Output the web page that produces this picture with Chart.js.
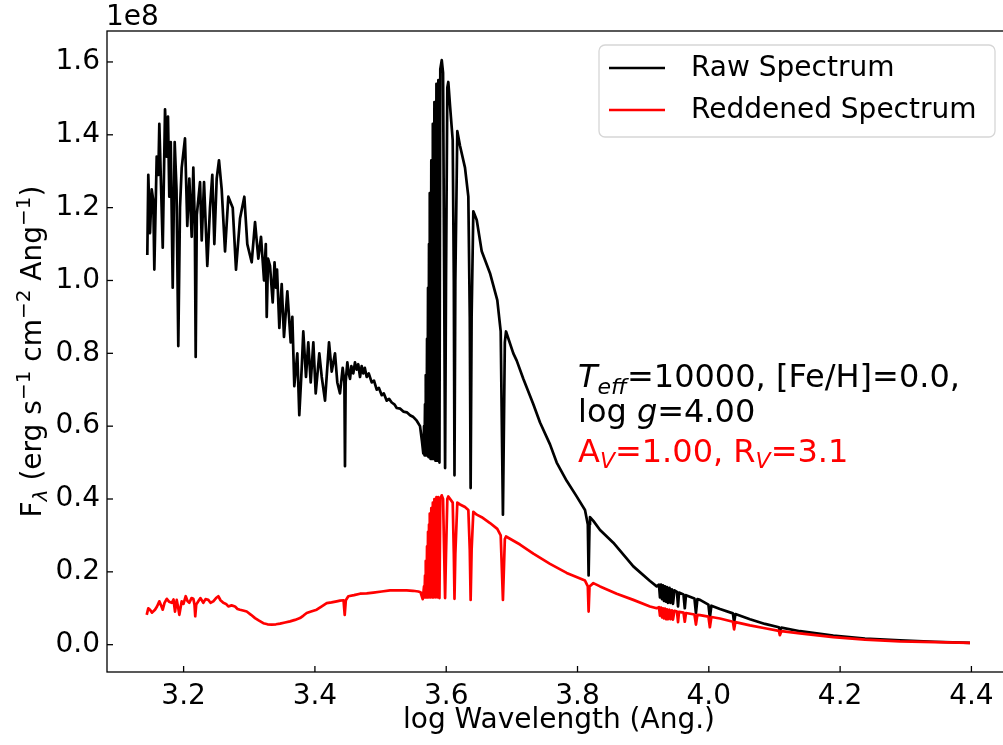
<!DOCTYPE html>
<html>
<head>
<meta charset="utf-8">
<script src="https://cdn.jsdelivr.net/npm/chart.js@4.4.1/dist/chart.umd.min.js"></script>
<style>
  html, body { margin: 0; padding: 0; background: #fff; overflow: hidden; }
  #wrap { width: 1020px; height: 745px; }
</style>
</head>
<body>
<div id="wrap"><canvas id="spec" width="1020" height="745"></canvas></div>
<script>
// ==========================================
// data (flux in units of 1e8)
// ==========================================
const seriesNames = ['Raw Spectrum', 'Reddened Spectrum'];
const xTicks = [3.2, 3.4, 3.6, 3.8, 4.0, 4.2, 4.4];
const yTicks = [0.0, 0.2, 0.4, 0.6, 0.8, 1.0, 1.2, 1.4, 1.6];
const xTitle = 'log Wavelength (Ang.)';
const offsetText = '1e8';

const rawWave = [
  3.1447, 3.1462, 3.1488, 3.1514, 3.1538, 3.1554, 3.1590, 3.1615, 3.1630, 3.1656,
  3.1682, 3.1717, 3.1743, 3.1762, 3.1782, 3.1804, 3.1834, 3.1864, 3.1892, 3.1919,
  3.1945, 3.1971, 3.2021, 3.2056, 3.2087, 3.2123, 3.2148, 3.2171, 3.2184, 3.2201,
  3.2250, 3.2276, 3.2311, 3.2361, 3.2402, 3.2437, 3.2468, 3.2504, 3.2539, 3.2580,
  3.2631, 3.2681, 3.2748, 3.2798, 3.2859, 3.2925, 3.2970, 3.3037, 3.3088, 3.3138,
  3.3179, 3.3225, 3.3252, 3.3266, 3.3286, 3.3316, 3.3357, 3.3385, 3.3407, 3.3423,
  3.3458, 3.3494, 3.3529, 3.3580, 3.3631, 3.3656, 3.3686, 3.3732, 3.3762, 3.3799,
  3.3823, 3.3864, 3.3899, 3.3936, 3.3976, 3.4012, 3.4067, 3.4104, 3.4154, 3.4215,
  3.4256, 3.4306, 3.4341, 3.4382, 3.4423, 3.4449, 3.4458, 3.4468, 3.4494, 3.4515,
  3.4535, 3.4555, 3.4585, 3.4610, 3.4637, 3.4660, 3.4687, 3.4712, 3.4737, 3.4760,
  3.4789, 3.4820, 3.4865, 3.4900, 3.4941, 3.4975, 3.5018, 3.5050, 3.5094, 3.5130,
  3.5170, 3.5210, 3.5246, 3.5300, 3.5347, 3.5400, 3.5449, 3.5500, 3.5551, 3.5601,
  3.5630, 3.5651,
  3.5662, 3.5669, 3.5677, 3.5685, 3.5692, 3.5700, 3.5708, 3.5715, 3.5723, 3.5730,
  3.5738, 3.5746, 3.5753, 3.5762, 3.5773, 3.5784, 3.5796, 3.5808, 3.5820, 3.5836,
  3.5851, 3.5866, 3.5880, 3.5897, 3.5910, 3.5932, 3.5952, 3.5969, 3.5983, 3.5997,
  3.6017, 3.6032, 3.6058, 3.6099, 3.6116, 3.6126, 3.6139, 3.6169, 3.6210, 3.6286,
  3.6337, 3.6359, 3.6372, 3.6387, 3.6413, 3.6465, 3.6541, 3.6667, 3.6778, 3.6830,
  3.6864, 3.6893, 3.6911, 3.7022, 3.7074, 3.7174, 3.7327, 3.7429, 3.7581, 3.7683,
  3.7835, 3.7977, 3.8114, 3.8157, 3.8169, 3.8183, 3.8190, 3.8241, 3.8343, 3.8545,
  3.8850, 3.9104, 3.9206,
  3.9241, 3.9256, 3.9272, 3.9287, 3.9302, 3.9317, 3.9332, 3.9348, 3.9363, 3.9378,
  3.9401, 3.9416, 3.9439, 3.9454, 3.9477, 3.9515, 3.9531, 3.9546, 3.9614, 3.9634,
  3.9652, 3.9781, 3.9804, 3.9826, 3.9866, 3.9994, 4.0016, 4.0039, 4.0170, 4.0367,
  4.0385, 4.0405, 4.0627, 4.0856, 4.1067, 4.1082, 4.1105, 4.1389, 4.1896, 4.2379,
  4.2912, 4.3445, 4.3978
];
const rawFlux = [
  1.07, 1.29, 1.13, 1.25, 1.22, 1.03, 1.34, 1.29, 1.43, 1.26,
  1.09, 1.47, 1.34, 1.45, 1.23, 1.38, 0.98, 1.38, 1.25, 0.82,
  1.20, 1.31, 1.39, 1.15, 1.28, 1.12, 1.31, 1.15, 0.79, 1.18,
  1.27, 1.11, 1.27, 1.04, 1.20, 1.29, 1.10, 1.28, 1.33, 1.25,
  1.08, 1.23, 1.20, 1.03, 1.17, 1.23, 1.10, 1.05, 1.16, 1.06,
  1.12, 1.00, 1.10, 0.90, 1.06, 1.04, 0.94, 1.05, 0.98, 1.03,
  0.87, 0.99, 0.845, 0.97, 0.83, 0.90, 0.71, 0.80, 0.63, 0.76,
  0.86, 0.735, 0.83, 0.72, 0.83, 0.69, 0.80, 0.735, 0.67, 0.83,
  0.75, 0.80, 0.72, 0.69, 0.76, 0.72, 0.49, 0.72, 0.775, 0.745,
  0.73, 0.765, 0.745, 0.775, 0.755, 0.77, 0.735, 0.765, 0.745, 0.76,
  0.735, 0.745, 0.72, 0.725, 0.70, 0.705, 0.685, 0.69, 0.67, 0.675,
  0.665, 0.66, 0.65, 0.648, 0.64, 0.638, 0.63, 0.625, 0.615, 0.60,
  0.56, 0.525,
  0.60, 0.52, 0.66, 0.52, 0.74, 0.52, 0.84, 0.52, 0.98, 0.515,
  1.10, 0.515, 1.24, 0.51, 1.33, 0.51, 1.43, 0.51, 1.49, 0.505,
  1.54, 0.505, 1.55, 0.50, 1.58, 1.605, 1.57, 1.00, 0.485, 1.00,
  1.53, 1.545, 1.48, 1.385, 1.00, 0.465, 1.00, 1.41, 1.37, 1.31,
  1.23, 0.90, 0.43, 0.90, 1.19, 1.166, 1.08, 1.02, 0.946, 0.86,
  0.357, 0.83, 0.86, 0.80, 0.78, 0.73, 0.66, 0.61, 0.55, 0.50,
  0.45, 0.41, 0.37, 0.33, 0.19, 0.33, 0.35, 0.34, 0.315, 0.28,
  0.215, 0.175, 0.16,
  0.165, 0.13, 0.165, 0.125, 0.163, 0.12, 0.16, 0.118, 0.158, 0.115,
  0.156, 0.115, 0.152, 0.112, 0.149, 0.145, 0.105, 0.143, 0.138, 0.10,
  0.136, 0.127, 0.087, 0.125, 0.123, 0.11, 0.074, 0.107, 0.098, 0.086,
  0.061, 0.084, 0.07, 0.057, 0.048, 0.036, 0.047, 0.037, 0.025, 0.017,
  0.012, 0.008, 0.005
];

const redWave = [
  3.1438, 3.1462, 3.1488, 3.1519, 3.1564, 3.1595, 3.1630, 3.1656, 3.1682, 3.1709,
  3.1743, 3.1778, 3.1819, 3.1846, 3.1869, 3.1895, 3.1919, 3.1935, 3.1971, 3.1998,
  3.2032, 3.2059, 3.2087, 3.2120, 3.2148, 3.2166, 3.2177, 3.2192, 3.2224, 3.2257,
  3.2300, 3.2334, 3.2376, 3.2410, 3.2452, 3.2494, 3.2529, 3.2562, 3.2605, 3.2646,
  3.2681, 3.2730, 3.2783, 3.2821, 3.2859, 3.2905, 3.2961, 3.3027, 3.3088, 3.3149,
  3.3214, 3.3278, 3.3342, 3.3407, 3.3468, 3.3545, 3.3621, 3.3697, 3.3773, 3.3826,
  3.3875, 3.3941, 3.4027, 3.4093, 3.4180, 3.4253, 3.4332, 3.4382, 3.4436, 3.4454,
  3.4471, 3.4509, 3.4596, 3.4687, 3.4789, 3.4890, 3.5018, 3.5144, 3.5266, 3.5398,
  3.5494, 3.5575, 3.5609, 3.5642,
  3.5662, 3.5669, 3.5677, 3.5685, 3.5692, 3.5700, 3.5708, 3.5715, 3.5723, 3.5730,
  3.5738, 3.5746, 3.5753, 3.5762, 3.5773, 3.5784, 3.5796, 3.5808, 3.5820, 3.5836,
  3.5851, 3.5866, 3.5880, 3.5897, 3.5910, 3.5932, 3.5952, 3.5969, 3.5983, 3.5997,
  3.6017, 3.6032, 3.6099, 3.6116, 3.6126, 3.6139, 3.6169, 3.6210, 3.6286, 3.6337,
  3.6359, 3.6372, 3.6387, 3.6413, 3.6465, 3.6541, 3.6667, 3.6778, 3.6830, 3.6864,
  3.6893, 3.6911, 3.7124, 3.7327, 3.7581, 3.7835, 3.8114, 3.8157, 3.8169, 3.8183,
  3.8241, 3.8343, 3.8597, 3.8850, 3.9104, 3.9206,
  3.9241, 3.9256, 3.9272, 3.9287, 3.9302, 3.9317, 3.9332, 3.9348, 3.9363, 3.9378,
  3.9401, 3.9416, 3.9439, 3.9454, 3.9477, 3.9515, 3.9531, 3.9546, 3.9614, 3.9634,
  3.9652, 3.9781, 3.9804, 3.9826, 3.9866, 3.9994, 4.0016, 4.0039, 4.0170, 4.0367,
  4.0385, 4.0405, 4.0627, 4.0856, 4.1067, 4.1082, 4.1105, 4.1389, 4.1896, 4.2379,
  4.2912, 4.3445, 4.3978
];
const redFlux = [
  0.082, 0.10, 0.096, 0.088, 0.096, 0.105, 0.119, 0.108, 0.096, 0.115,
  0.126, 0.118, 0.115, 0.124, 0.091, 0.123, 0.10, 0.082, 0.119, 0.112,
  0.133, 0.12, 0.115, 0.128, 0.126, 0.11, 0.078, 0.11, 0.119, 0.128,
  0.115, 0.125, 0.123, 0.115, 0.119, 0.128, 0.133, 0.122, 0.115, 0.112,
  0.105, 0.108, 0.105, 0.098, 0.096, 0.094, 0.091, 0.082, 0.073, 0.066,
  0.059, 0.056, 0.055, 0.056, 0.058, 0.061, 0.064, 0.068, 0.073, 0.080,
  0.087, 0.091, 0.096, 0.104, 0.114, 0.116, 0.119, 0.121, 0.122, 0.082,
  0.122, 0.133, 0.136, 0.14, 0.141, 0.143, 0.146, 0.149, 0.149, 0.149,
  0.148, 0.146, 0.144, 0.125,
  0.16, 0.13, 0.19, 0.13, 0.23, 0.13, 0.27, 0.13, 0.31, 0.13,
  0.33, 0.13, 0.36, 0.13, 0.375, 0.13, 0.39, 0.13, 0.40, 0.13,
  0.405, 0.13, 0.405, 0.128, 0.40, 0.41, 0.40, 0.25, 0.128, 0.25,
  0.40, 0.407, 0.39, 0.25, 0.126, 0.25, 0.39, 0.385, 0.378, 0.37,
  0.26, 0.123, 0.26, 0.365, 0.357, 0.35, 0.334, 0.318, 0.30, 0.123,
  0.29, 0.297, 0.275, 0.25, 0.222, 0.197, 0.176, 0.16, 0.091, 0.16,
  0.169, 0.16, 0.14, 0.123, 0.105, 0.10,
  0.103, 0.08, 0.102, 0.075, 0.10, 0.072, 0.099, 0.07, 0.097, 0.07,
  0.096, 0.07, 0.094, 0.069, 0.093, 0.091, 0.062, 0.09, 0.088, 0.063,
  0.087, 0.083, 0.055, 0.082, 0.081, 0.077, 0.048, 0.076, 0.072, 0.063,
  0.042, 0.062, 0.053, 0.045, 0.038, 0.026, 0.037, 0.031, 0.021, 0.014,
  0.009, 0.007, 0.005
];

// labels with sub/superscripts: [text, size, italic, dy]
const yTitleParts = [
  ['F', 28, false, 0], ['λ', 20, true, 6], [' (erg s', 28, false, 0], ['−1', 20, false, -11],
  [' cm', 28, false, 0], ['−2', 20, false, -11], [' Ang', 28, false, 0], ['−1', 20, false, -11],
  [')', 28, false, 0]
];
const noteLines = [
  { color: '#000000', parts: [['T', 32, true, 0], ['eff', 22, true, 7], ['=10000, [Fe/H]=0.0,', 32, false, 0]] },
  { color: '#000000', parts: [['log ', 32, false, 0], ['g', 32, true, 0], ['=4.00', 32, false, 0]] },
  { color: '#ff0000', parts: [['A', 32, false, 0], ['V', 22, true, 6], ['=1.00, R', 32, false, 0], ['V', 22, true, 6], ['=3.1', 32, false, 0]] }
];

const FAMILY = "'DejaVu Sans', sans-serif";

// ==========================================
// helpers
// ==========================================
function partFont(p) {
  return (p[2] ? 'italic ' : '') + p[1] + 'px ' + FAMILY;
}
function richWidth(ctx, parts) {
  let w = 0;
  parts.forEach(p => { ctx.font = partFont(p); w += ctx.measureText(p[0]).width; });
  return w;
}
function drawRich(ctx, parts, x, y) {
  ctx.textBaseline = 'alphabetic';
  ctx.textAlign = 'left';
  parts.forEach(p => {
    ctx.font = partFont(p);
    ctx.fillText(p[0], x, y + p[3]);
    x += ctx.measureText(p[0]).width;
  });
}

const plotFrame = {
  id: 'plotFrame',
  afterDraw(chart) {
    const { ctx, chartArea: a, scales } = chart;
    ctx.save();

    // ticks pointing inward
    ctx.strokeStyle = '#000';
    ctx.lineWidth = 1.3;
    xTicks.forEach(v => {
      const px = scales.x.getPixelForValue(v);
      ctx.beginPath(); ctx.moveTo(px, a.bottom); ctx.lineTo(px, a.bottom - 6); ctx.stroke();
    });
    yTicks.forEach(v => {
      const py = scales.y.getPixelForValue(v);
      ctx.beginPath(); ctx.moveTo(a.left, py); ctx.lineTo(a.left + 6, py); ctx.stroke();
    });

    // frame
    ctx.strokeRect(a.left, a.top, a.right - a.left, a.bottom - a.top);

    // offset text
    ctx.fillStyle = '#000';
    ctx.font = '28px ' + FAMILY;
    ctx.textAlign = 'left';
    ctx.textBaseline = 'alphabetic';
    ctx.fillText(offsetText, a.left - 1, 25);

    // y title (rotated)
    ctx.save();
    ctx.translate(41, (a.top + a.bottom) / 2);
    ctx.rotate(-Math.PI / 2);
    const yw = richWidth(ctx, yTitleParts);
    drawRich(ctx, yTitleParts, -yw / 2, 0);
    ctx.restore();

    // legend
    const bx = 599, by = 45, bw = 396, bh = 92, r = 6;
    ctx.beginPath();
    ctx.moveTo(bx + r, by);
    ctx.lineTo(bx + bw - r, by); ctx.arcTo(bx + bw, by, bx + bw, by + r, r);
    ctx.lineTo(bx + bw, by + bh - r); ctx.arcTo(bx + bw, by + bh, bx + bw - r, by + bh, r);
    ctx.lineTo(bx + r, by + bh); ctx.arcTo(bx, by + bh, bx, by + bh - r, r);
    ctx.lineTo(bx, by + r); ctx.arcTo(bx, by, bx + r, by, r);
    ctx.closePath();
    ctx.fillStyle = 'rgba(255,255,255,0.8)';
    ctx.fill();
    ctx.strokeStyle = '#d6d6d6';
    ctx.lineWidth = 1.3;
    ctx.stroke();
    chart.data.datasets.forEach((ds, i) => {
      const ly = 68 + i * 42;
      ctx.strokeStyle = ds.borderColor;
      ctx.lineWidth = 2.7;
      ctx.beginPath(); ctx.moveTo(609, ly); ctx.lineTo(665, ly); ctx.stroke();
      ctx.fillStyle = '#000';
      ctx.font = '28px ' + FAMILY;
      ctx.textBaseline = 'middle';
      ctx.fillText(ds.label, 691, ly + 1);
    });

    // parameter note
    const baselines = [387, 422, 462];
    noteLines.forEach((ln, i) => {
      ctx.fillStyle = ln.color;
      drawRich(ctx, ln.parts, 578, baselines[i]);
    });

    ctx.restore();
  }
};

// ==========================================
// chart
// ==========================================
const toPoints = (xs, ys) => xs.map((x, i) => ({ x: x, y: ys[i] }));

new Chart(document.getElementById('spec'), {
  type: 'line',
  data: {
    datasets: [
      {
        label: seriesNames[0],
        data: toPoints(rawWave, rawFlux),
        borderColor: '#000000',
        borderWidth: 2.7,
        pointRadius: 0,
        tension: 0,
        borderJoinStyle: 'round',
        order: 2
      },
      {
        label: seriesNames[1],
        data: toPoints(redWave, redFlux),
        borderColor: '#ff0000',
        borderWidth: 2.7,
        pointRadius: 0,
        tension: 0,
        borderJoinStyle: 'round',
        order: 1
      }
    ]
  },
  options: {
    responsive: false,
    animation: false,
    events: [],
    layout: { padding: { left: 0, top: 31, right: 9, bottom: 0 } },
    plugins: { legend: { display: false }, tooltip: { enabled: false } },
    scales: {
      x: {
        type: 'linear',
        min: 3.0833,
        max: 4.4603,
        afterBuildTicks: s => { s.ticks = xTicks.map(v => ({ value: v })); },
        afterFit: s => { s.height = 73; },
        grid: { display: false, drawTicks: false },
        border: { display: false },
        ticks: {
          autoSkip: false, maxRotation: 0, padding: 8, color: '#000',
          font: { family: FAMILY, size: 28 },
          callback: v => v.toFixed(1)
        },
        title: {
          display: true, text: xTitle, color: '#000',
          font: { family: FAMILY, size: 28 },
          padding: { top: 0, bottom: 7 }
        }
      },
      y: {
        type: 'linear',
        min: -0.075,
        max: 1.685,
        afterBuildTicks: s => { s.ticks = yTicks.map(v => ({ value: v })); },
        afterFit: s => { s.width = 107; },
        grid: { display: false, drawTicks: false },
        border: { display: false },
        ticks: {
          autoSkip: false, padding: 7, color: '#000',
          font: { family: FAMILY, size: 28 },
          callback: v => v.toFixed(1)
        }
      }
    }
  },
  plugins: [plotFrame]
});
</script>
</body>
</html>
